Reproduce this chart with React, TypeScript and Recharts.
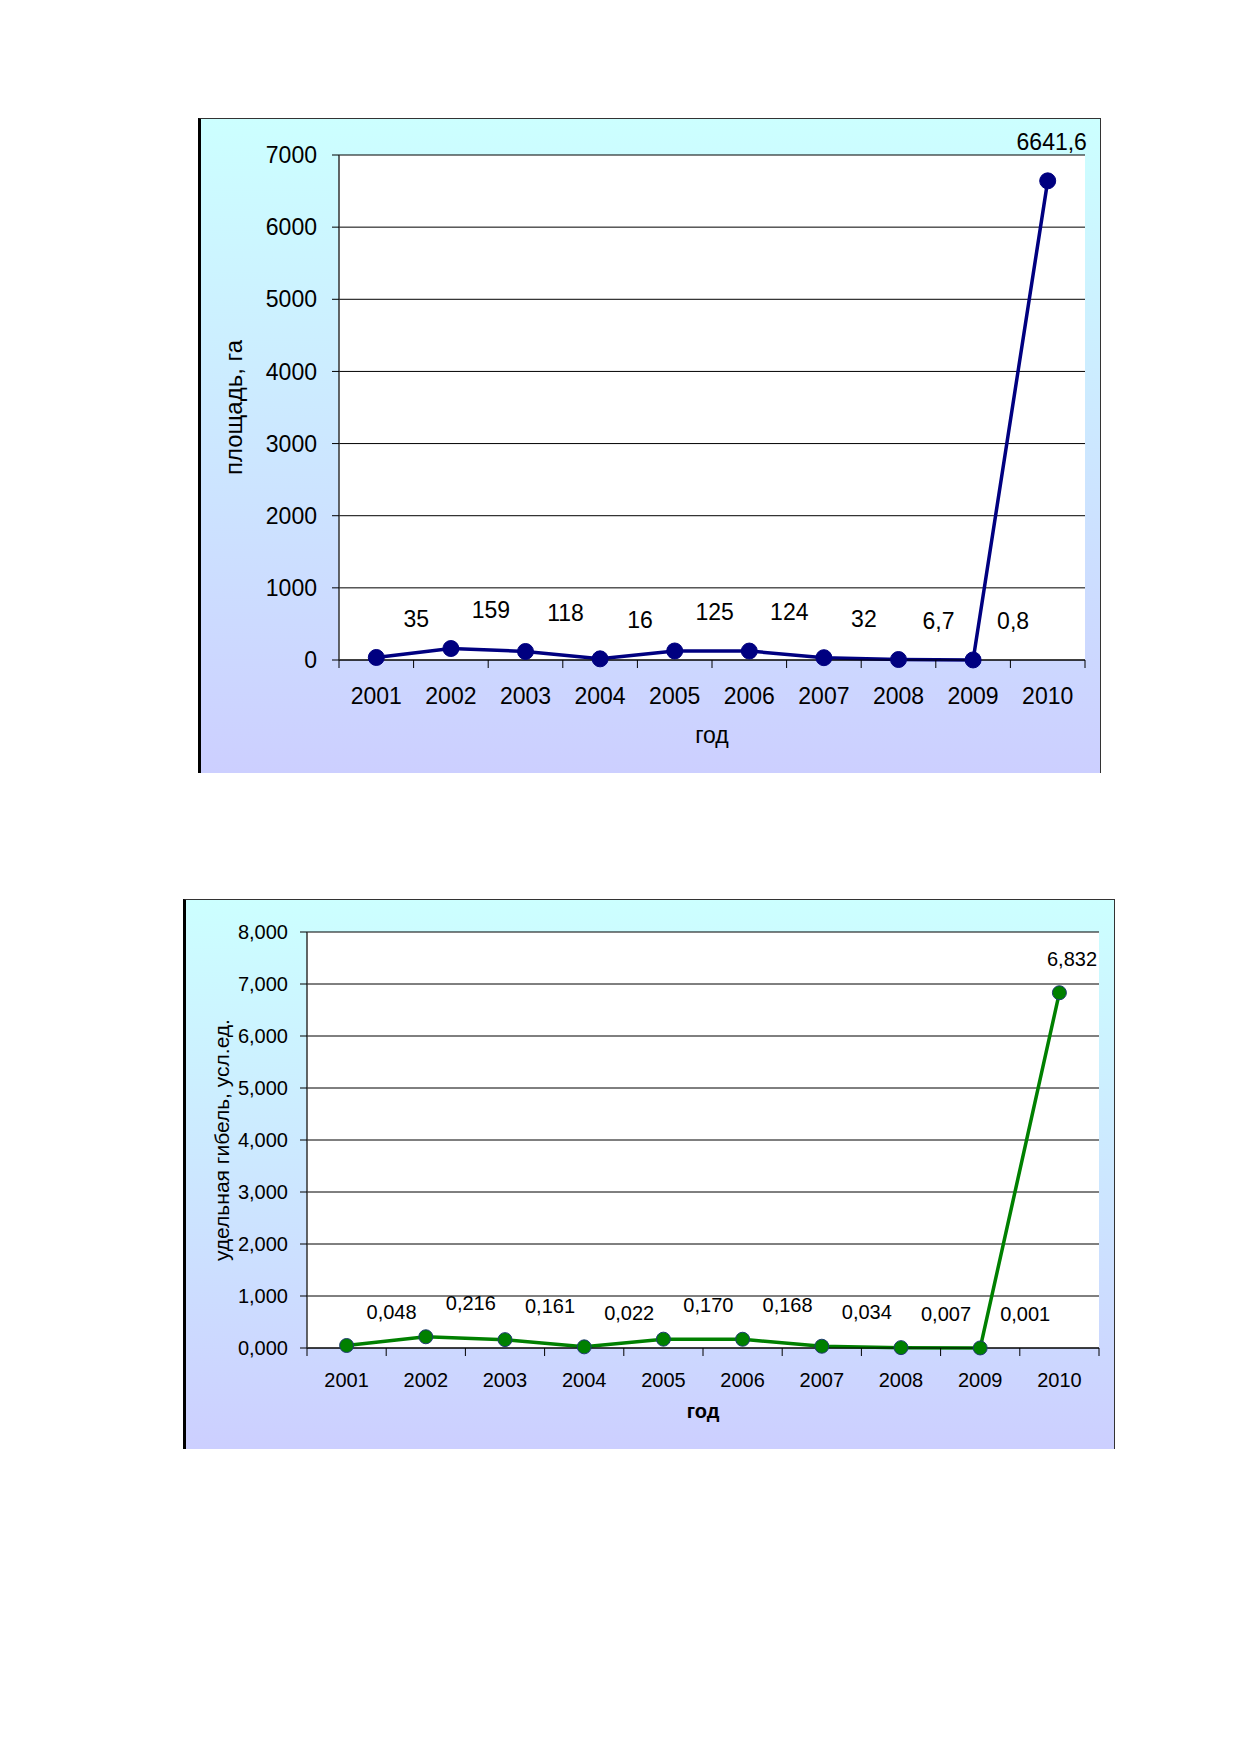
import React from "react";
import {
  LineChart,
  Line,
  XAxis,
  YAxis,
  CartesianGrid,
  LabelList,
} from "recharts";

// Values
const years = ["2001", "2002", "2003", "2004", "2005", "2006", "2007", "2008", "2009", "2010"];
const areaHa = [35, 159, 118, 16, 125, 124, 32, 6.7, 0.8, 6641.6];
const specificLoss = [0.048, 0.216, 0.161, 0.022, 0.17, 0.168, 0.034, 0.007, 0.001, 6.832];
const areaTicks = [0, 1000, 2000, 3000, 4000, 5000, 6000, 7000];
const lossTicks = [0, 1, 2, 3, 4, 5, 6, 7, 8];

const areaData = years.map((year, i) => ({ year, value: areaHa[i] }));
const lossData = years.map((year, i) => ({ year, value: specificLoss[i] }));

const FONT = "Arial, 'Liberation Sans', sans-serif";

const fmtArea = (v: number) => String(v).replace(".", ",");
const fmtLoss = (v: number) => v.toFixed(3).replace(".", ",");

type ChartCfg = {
  left: number;
  top: number;
  width: number;
  height: number;
  margin: { top: number; right: number; left: number; bottom: number };
  yAxisWidth: number;
  xAxisHeight: number;
  fontSize: number;
  yTitleSize: number;
  color: string;
  dotFill: string;
  dotStroke: string;
  dotR: number;
  data: { year: string; value: number }[];
  ticks: number[];
  domain: [number, number];
  fmtTick: (v: number) => string;
  fmtLabel: (v: number) => string;
  yTitle: string;
  yTitleOffset: number;
  xTitleOffset: number;
  xTitleBold: boolean;
  xTickMargin: number;
  yTickMargin: number;
  labelDx: number;
  labelDy: number;
  labelRightPad: number;
};

function XTick(props: any) {
  const { x, y, payload, index, band, margin, fontSize, last } = props;
  const axisY = y - margin;
  return (
    <g>
      <line x1={x - band / 2} x2={x - band / 2} y1={axisY} y2={axisY + 8} stroke="#000" />
      {index === last && (
        <line x1={x + band / 2} x2={x + band / 2} y1={axisY} y2={axisY + 8} stroke="#000" />
      )}
      <text x={x} y={y} dy="0.71em" textAnchor="middle" fontSize={fontSize} fill="#000" fontFamily={FONT}>
        {payload.value}
      </text>
    </g>
  );
}

function FramedChart({ cfg }: { cfg: ChartCfg }) {
  const plotWidth = cfg.width - cfg.margin.left - cfg.margin.right - cfg.yAxisWidth;
  const plotRight = cfg.margin.left + cfg.yAxisWidth + plotWidth;
  const band = plotWidth / years.length;

  const renderLabel = (p: any) => {
    const text = cfg.fmtLabel(Number(p.value));
    const w = text.length * cfg.fontSize * 0.54;
    let lx = p.x + cfg.labelDx;
    const limit = plotRight + cfg.labelRightPad;
    if (lx + w / 2 > limit) lx = limit - w / 2;
    const ly = Math.max(p.y + cfg.labelDy, cfg.fontSize * 0.8);
    return (
      <text
        key={p.index}
        x={lx}
        y={ly}
        dy="0.35em"
        textAnchor="middle"
        fontSize={cfg.fontSize}
        fontFamily={FONT}
        fill="#000"
      >
        {text}
      </text>
    );
  };

  return (
    <>
      <div
        style={{
          position: "absolute",
          left: cfg.left,
          top: cfg.top,
          width: cfg.width,
          height: cfg.height,
          boxSizing: "border-box",
          background: "linear-gradient(to bottom, #ccffff 0%, #cccfff 100%)",
          borderLeft: "3px solid #000",
          borderTop: "1px solid #333",
          borderRight: "1px solid #333",
        }}
      />
      <div style={{ position: "absolute", left: cfg.left, top: cfg.top }}>
        <LineChart width={cfg.width} height={cfg.height} data={cfg.data} margin={cfg.margin}>
          <CartesianGrid vertical={false} stroke="#000" fill="#fff" />
          <XAxis
            dataKey="year"
            scale="band"
            height={cfg.xAxisHeight}
            axisLine={{ stroke: "#000" }}
            tickLine={false}
            tickSize={0}
            tickMargin={cfg.xTickMargin}
            interval={0}
            tick={
              <XTick band={band} margin={cfg.xTickMargin} fontSize={cfg.fontSize} last={years.length - 1} />
            }
            label={{
              value: "год",
              position: "insideBottom",
              offset: cfg.xTitleOffset,
              style: {
                fontSize: cfg.fontSize,
                fontFamily: FONT,
                fill: "#000",
                fontWeight: cfg.xTitleBold ? "bold" : "normal",
              },
            }}
          />
          <XAxis
            xAxisId="top"
            orientation="top"
            dataKey="year"
            height={0}
            tick={false}
            tickLine={false}
            axisLine={{ stroke: "#808080", strokeWidth: 2 }}
          />
          <YAxis
            width={cfg.yAxisWidth}
            domain={cfg.domain}
            ticks={cfg.ticks}
            interval={0}
            tickFormatter={cfg.fmtTick}
            axisLine={{ stroke: "#333", strokeWidth: 1.5 }}
            tickLine={{ stroke: "#000" }}
            tickSize={7}
            tickMargin={cfg.yTickMargin}
            tick={{ fill: "#000", fontSize: cfg.fontSize, fontFamily: FONT }}
            label={{
              value: cfg.yTitle,
              angle: -90,
              position: "insideLeft",
              offset: cfg.yTitleOffset,
              style: { textAnchor: "middle", fontSize: cfg.yTitleSize, fontFamily: FONT, fill: "#000" },
            }}
          />
          <YAxis
            yAxisId="right"
            orientation="right"
            width={0}
            domain={cfg.domain}
            tick={false}
            tickLine={false}
            axisLine={{ stroke: "#808080", strokeWidth: 2 }}
          />
          <Line
            type="linear"
            dataKey="value"
            stroke={cfg.color}
            strokeWidth={3.5}
            dot={{ r: cfg.dotR, fill: cfg.dotFill, stroke: cfg.dotStroke, strokeWidth: 1, fillOpacity: 1 }}
            activeDot={false}
            isAnimationActive={false}
          >
            <LabelList dataKey="value" content={renderLabel} />
          </Line>
        </LineChart>
      </div>
    </>
  );
}

const areaCfg: ChartCfg = {
  left: 198,
  top: 118,
  width: 903,
  height: 655,
  margin: { top: 37, right: 16, left: 0, bottom: 0 },
  yAxisWidth: 141,
  xAxisHeight: 113,
  fontSize: 23,
  yTitleSize: 24,
  color: "#000080",
  dotFill: "#000080",
  dotStroke: "#000080",
  dotR: 8,
  data: areaData,
  ticks: areaTicks,
  domain: [0, 7000],
  fmtTick: (v) => String(v),
  fmtLabel: fmtArea,
  yTitle: "площадь, га",
  yTitleOffset: 35,
  xTitleOffset: 30,
  xTitleBold: false,
  xTickMargin: 28,
  yTickMargin: 15,
  labelDx: 40,
  labelDy: -39,
  labelRightPad: 4,
};

const lossCfg: ChartCfg = {
  left: 183,
  top: 899,
  width: 932,
  height: 550,
  margin: { top: 33, right: 16, left: 0, bottom: 0 },
  yAxisWidth: 124,
  xAxisHeight: 101,
  fontSize: 20,
  yTitleSize: 21,
  color: "#008000",
  dotFill: "#008000",
  dotStroke: "#1f3b70",
  dotR: 7,
  data: lossData,
  ticks: lossTicks,
  domain: [0, 8],
  fmtTick: fmtLoss,
  fmtLabel: fmtLoss,
  yTitle: "удельная гибель, усл.ед.",
  yTitleOffset: 39,
  xTitleOffset: 31,
  xTitleBold: true,
  xTickMargin: 25,
  yTickMargin: 12,
  labelDx: 45,
  labelDy: -34,
  labelRightPad: 0,
};

export default function App() {
  return (
    <div style={{ position: "absolute", left: 0, top: 0, width: 1239, height: 1752, background: "#fff" }}>
      <FramedChart cfg={areaCfg} />
      <FramedChart cfg={lossCfg} />
    </div>
  );
}
